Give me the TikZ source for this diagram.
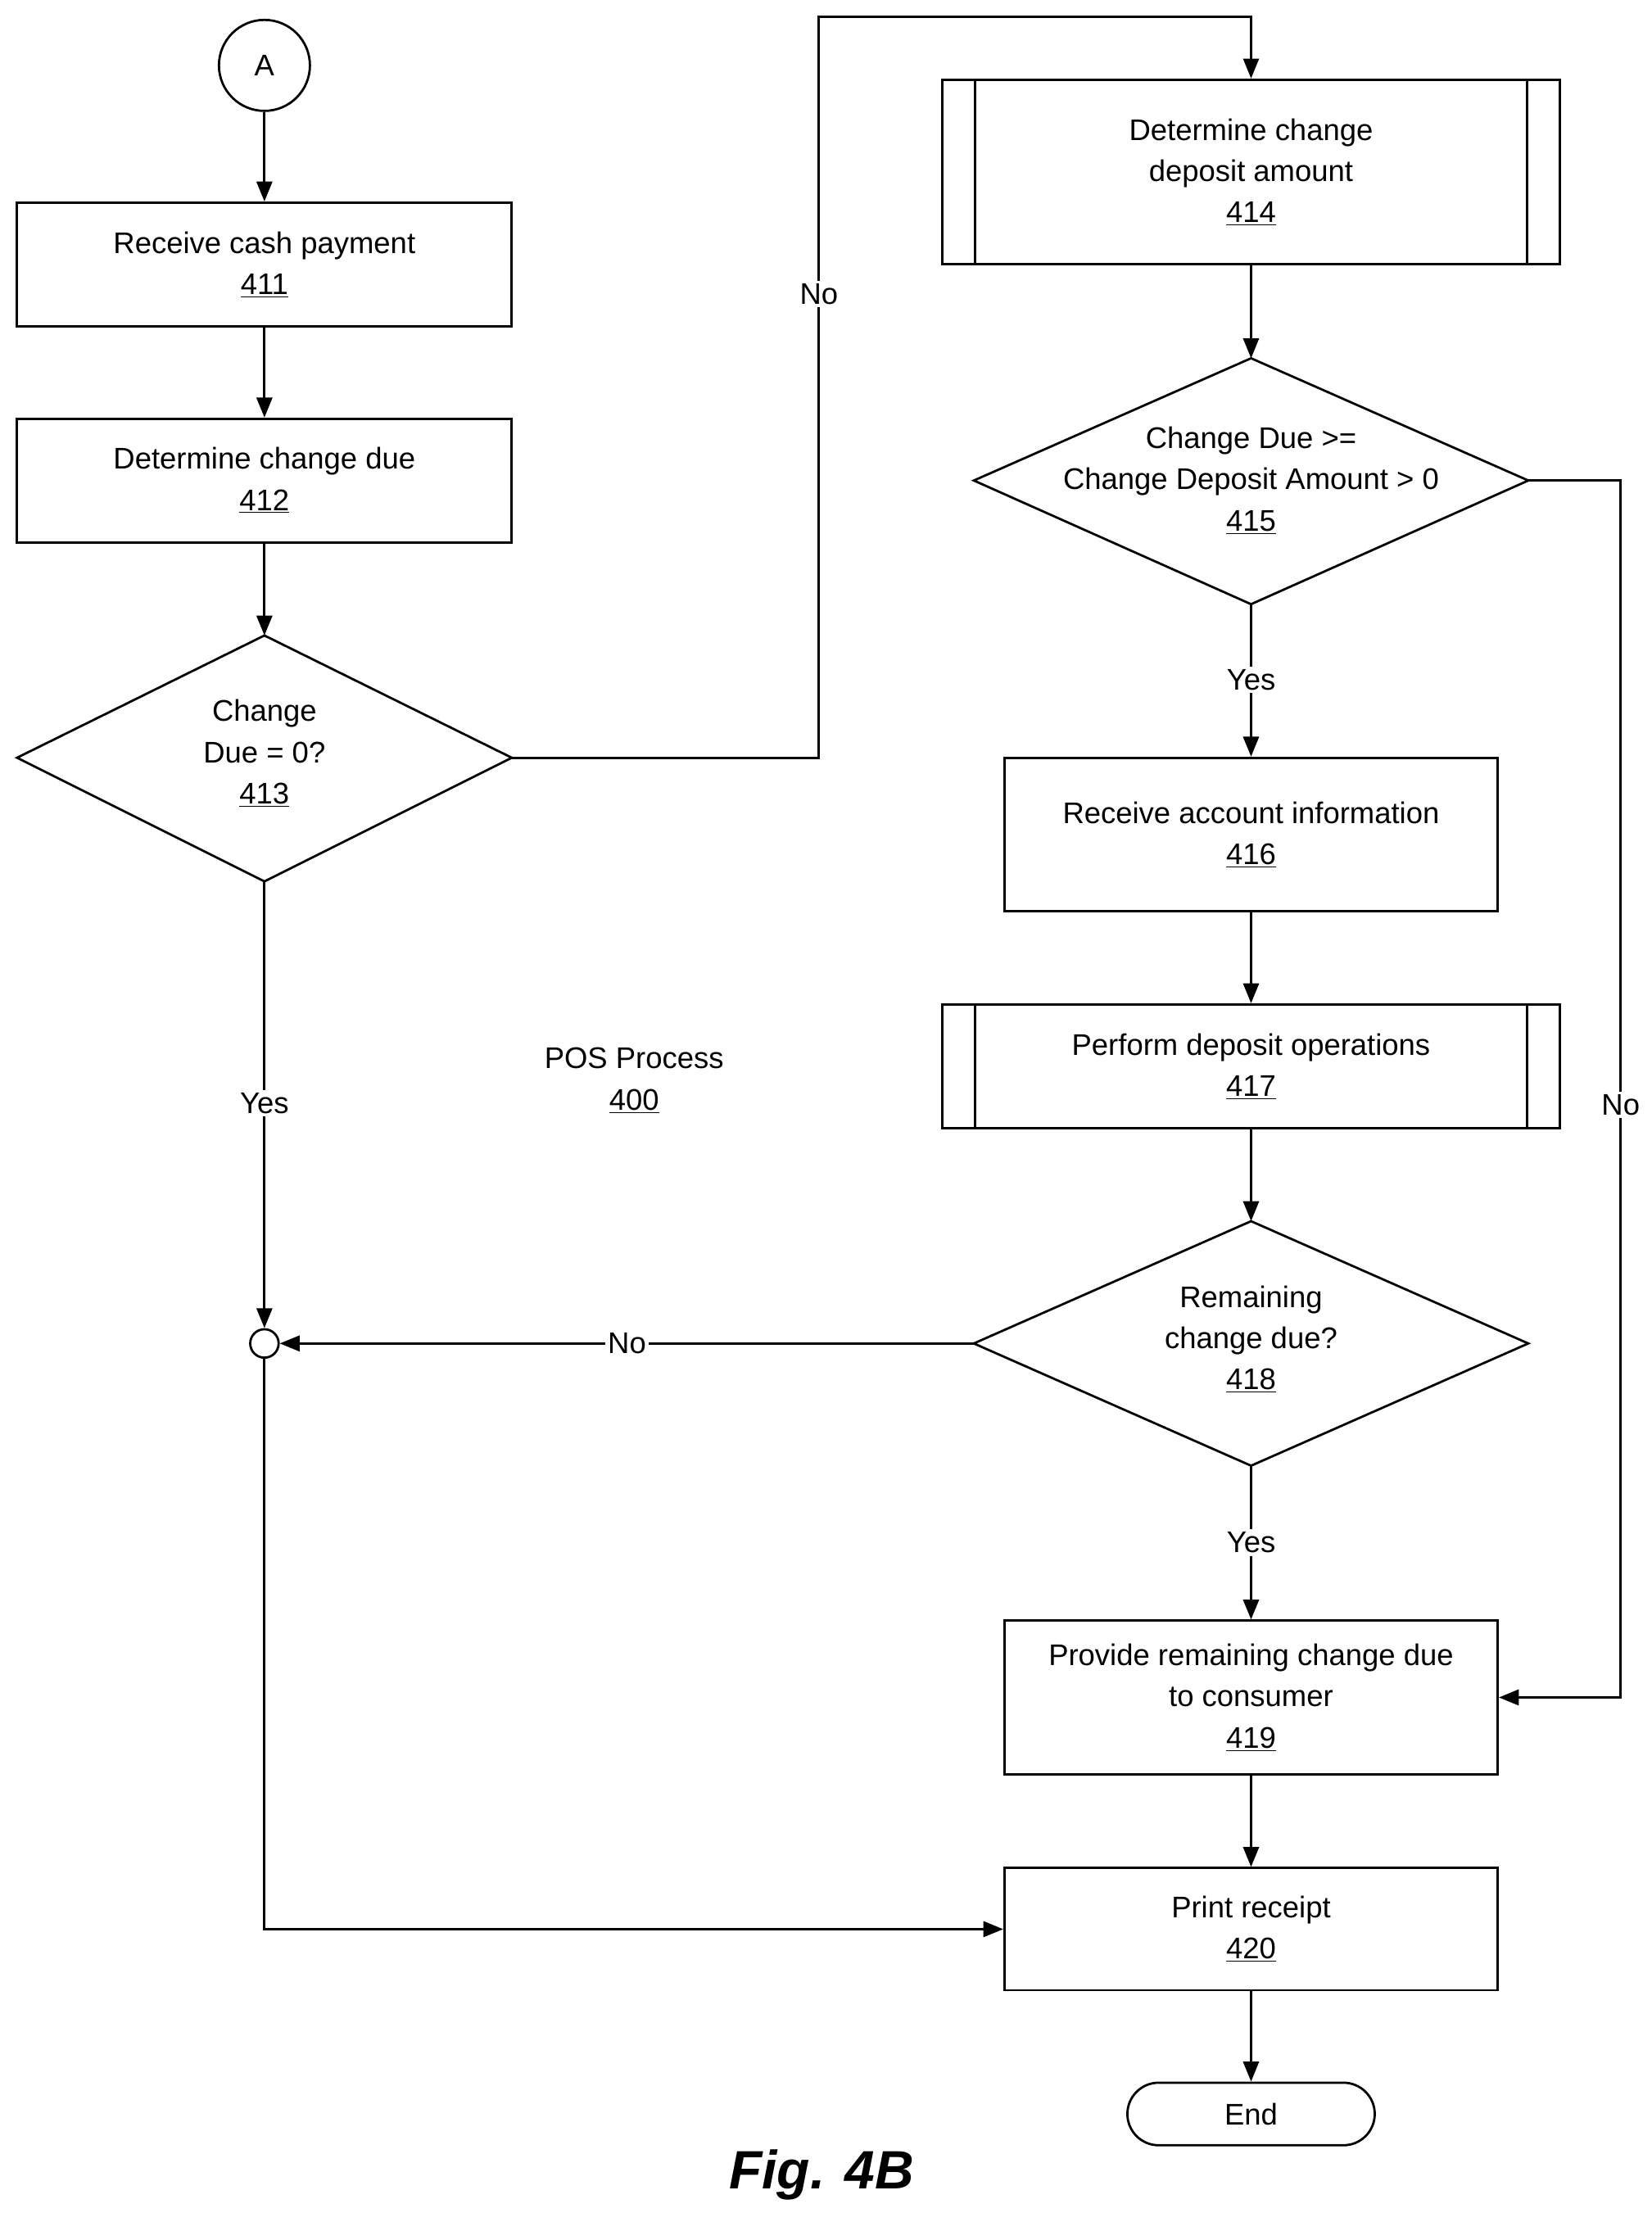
\documentclass[tikz,border=0pt]{standalone}
\usepackage{fontspec}
\setmainfont{Liberation Sans}
\usetikzlibrary{shapes.geometric,arrows.meta}
\begin{document}
\begin{tikzpicture}[x=1pt,y=-1pt,
 font=\fontsize{21}{29}\selectfont,
 every node/.style={inner sep=0pt},
 box/.style={draw,line width=1.6pt,align=center},
 dia/.style={draw,line width=1.6pt,diamond,align=center,aspect=2.25},
 line/.style={line width=1.6pt},
 arr/.style={line width=1.6pt,-{Triangle[length=14pt,width=11pt]}},
 lab/.style={fill=white,inner sep=2pt}]
\useasboundingbox (0,0) rectangle (1162,1563);
\node[draw,line width=1.6pt,circle,minimum size=64pt] (A) at (186,46) {A};
\node[box,minimum width=348pt,minimum height=87pt] (n411) at (186,186) {Receive cash payment\\\underline{411}};
\node[box,minimum width=348pt,minimum height=87pt] (n412) at (186,338) {Determine change due\\\underline{412}};
\draw[line width=1.6pt] (12,533)--(186,447)--(360,533)--(186,620)--cycle;
\node[align=center] (n413) at (186,530) {Change\\Due = 0?\\\underline{413}};
\coordinate (d413t) at (186,447); \coordinate (d413r) at (360,533); \coordinate (d413b) at (186,620);
\node[box,minimum width=434pt,minimum height=130pt] (n414) at (880,121) {Determine change\\deposit amount\\\underline{414}};
\draw[line] (686,56)--(686,186) (1074,56)--(1074,186);
\draw[line width=1.6pt] (685,338)--(880,252)--(1075,338)--(880,425)--cycle;
\node[align=center] (n415) at (880,338) {Change Due >=\\Change Deposit Amount > 0\\\underline{415}};
\coordinate (d415t) at (880,252); \coordinate (d415r) at (1075,338); \coordinate (d415b) at (880,425);
\node[box,minimum width=347pt,minimum height=108pt] (n416) at (880,587) {Receive account information\\\underline{416}};
\node[box,minimum width=434pt,minimum height=87pt] (n417) at (880,750) {Perform deposit operations\\\underline{417}};
\draw[line] (686,706)--(686,793) (1074,706)--(1074,793);
\draw[line width=1.6pt] (685,945)--(880,859)--(1075,945)--(880,1031)--cycle;
\node[align=center] (n418) at (880,942) {Remaining\\change due?\\\underline{418}};
\coordinate (d418t) at (880,859); \coordinate (d418l) at (685,945); \coordinate (d418b) at (880,1031);
\node[box,minimum width=347pt,minimum height=108pt] (n419) at (880,1194) {Provide remaining change due\\to consumer\\\underline{419}};
\node[box,minimum width=347pt,minimum height=86pt] (n420) at (880,1357) {Print receipt\\\underline{420}};
\node[draw,line width=1.6pt,rounded corners=22pt,minimum width=174pt,minimum height=44pt] (end) at (880,1487) {End};
\node[draw,line width=1.6pt,circle,minimum size=20pt] (j) at (186,945) {};
\node[align=center] (pos) at (446,760) {POS Process\\\underline{400}};
\node (fig) at (578,1530) {\fontsize{38}{40}\selectfont\bfseries\itshape Fig. 4B};
\draw[arr] (A)--(n411);
\draw[arr] (n411)--(n412);
\draw[arr] (n412)--(d413t);
\draw[arr] (d413r)--(576,533)--(576,12)--(880,12)--(n414.north);
\node[lab] at (576,207) {No};
\draw[arr] (n414)--(d415t);
\draw[arr] (d415b)--(n416);
\node[lab] at (880,478) {Yes};
\draw[arr] (d415r)--(1140,338)--(1140,1194)--(n419.east);
\node[lab] at (1140,777) {No};
\draw[arr] (n416)--(n417);
\draw[arr] (n417)--(d418t);
\draw[arr] (d418b)--(n419);
\node[lab] at (880,1085) {Yes};
\draw[arr] (d418l)--(j);
\node[lab] at (441,945) {No};
\draw[arr] (d413b)--(j);
\node[lab] at (186,776) {Yes};
\draw[arr] (j)--(186,1357)--(n420.west);
\draw[arr] (n419)--(n420);
\draw[arr] (n420)--(end);
\end{tikzpicture}
\end{document}
